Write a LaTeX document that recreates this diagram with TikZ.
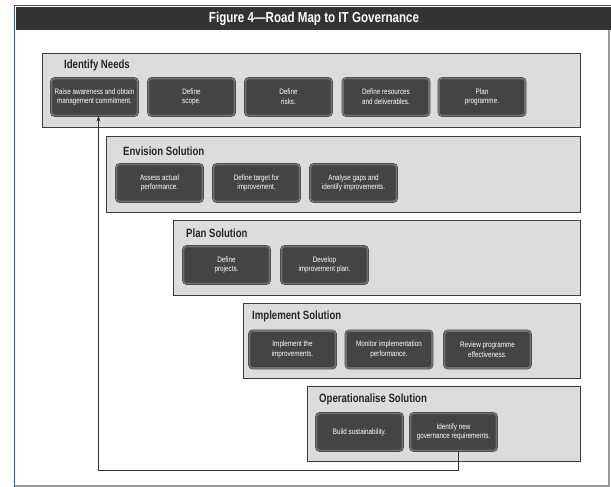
\documentclass[tikz,border=0pt]{standalone}
\usepackage{fontspec}
\setmainfont{Liberation Sans}[FakeStretch=0.8]
\usepackage{tikz}
\usetikzlibrary{arrows.meta}
\definecolor{framblue}{HTML}{2F5A94}
\definecolor{bardark}{HTML}{333333}
\definecolor{panelfill}{HTML}{DCDCDC}
\definecolor{paneldraw}{HTML}{3C3C3C}
\definecolor{stepfill}{HTML}{444444}
\definecolor{stepring}{HTML}{707070}
\tikzstyle{panel} = [rectangle, draw = paneldraw, fill = panelfill, line width = 1.3pt, anchor = north west, inner sep = 0pt]
\tikzstyle{phase} = [anchor = west, inner sep = 0pt, font = \bfseries\fontsize{12}{14}\selectfont, text = black!85]
\tikzstyle{stepbox} = [rectangle, rounded corners = 3pt, draw = black!75, double = stepring, double distance = 1.8pt, fill = stepfill, text = white, minimum width = 86pt, minimum height = 37pt, inner sep = 1pt, align = center, font = \fontsize{7.9}{9.8}\selectfont]

\begin{document}
\begin{tikzpicture}[x = 1pt, y = -1pt]
        \useasboundingbox (0, 0) rectangle (611, 487);
        % frame and title bar
        \fill [white] (14, 5) rectangle (611, 487);
        \fill [bardark] (16, 7) rectangle (611, 30);
        \draw [framblue, line width = 1.6pt] (611, 5.5) -- (14.5, 5.5) -- (14.5, 487);
        \draw [black!40, line width = 1.2pt] (609, 30) -- (609, 486) -- (15, 486);
        \node (title) at (314, 18.5) [text = white, font = \bfseries\fontsize{14.5}{16}\selectfont] {Figure 4---Road Map to IT Governance};

        % phases
        \node (needs) at (42, 53) [panel, minimum width = 538pt, minimum height = 74pt] {};
        \node (envision) at (106, 136) [panel, minimum width = 474pt, minimum height = 76pt] {};
        \node (plan) at (173, 220) [panel, minimum width = 407pt, minimum height = 75pt] {};
        \node (implement) at (243, 303) [panel, minimum width = 337pt, minimum height = 75pt] {};
        \node (operate) at (307, 386) [panel, minimum width = 273pt, minimum height = 75pt] {};
        \node (needsT) at (64, 65) [phase] {Identify Needs};
        \node (envisionT) at (123, 151) [phase] {Envision Solution};
        \node (planT) at (186, 233) [phase] {Plan Solution};
        \node (implementT) at (252, 316) [phase] {Implement Solution};
        \node (operateT) at (319, 399) [phase] {Operationalise Solution};

        % steps
        \node (raise) at (94.5, 97) [stepbox] {Raise awareness and obtain\\management commitment.};
        \node (scope) at (191.5, 97) [stepbox] {Define\\scope.};
        \node (risks) at (288.5, 97) [stepbox] {Define\\risks.};
        \node (resources) at (386, 97) [stepbox] {Define resources\\and deliverables.};
        \node (programme) at (482, 97) [stepbox] {Plan\\programme.};
        \node (assess) at (159.5, 183) [stepbox] {Assess actual\\performance.};
        \node (target) at (256.5, 183) [stepbox] {Define target for\\improvement.};
        \node (gaps) at (353.5, 183) [stepbox] {Analyse gaps and\\identify improvements.};
        \node (projects) at (226.5, 265) [stepbox] {Define\\projects.};
        \node (develop) at (324.5, 265) [stepbox] {Develop\\improvement plan.};
        \node (improve) at (292.5, 349.5) [stepbox] {Implement the\\improvements.};
        \node (monitor) at (389, 349.5) [stepbox] {Monitor implementation\\performance.};
        \node (review) at (487.5, 349.5) [stepbox] {Review programme\\effectiveness.};
        \node (sustain) at (359.5, 432) [stepbox] {Build sustainability.};
        \node (newreq) at (453.5, 432) [stepbox] {Identify new\\governance requirements.};

        % feedback loop
        \coordinate (loop) at (98.5, 470);
        \draw [-{Stealth[length = 6pt, width = 4pt]}, line width = 0.9pt, black!80] ([xshift = 5pt]newreq.south) |- (loop) -- (raise.south -| loop);
    \end{tikzpicture}
\end{document}
